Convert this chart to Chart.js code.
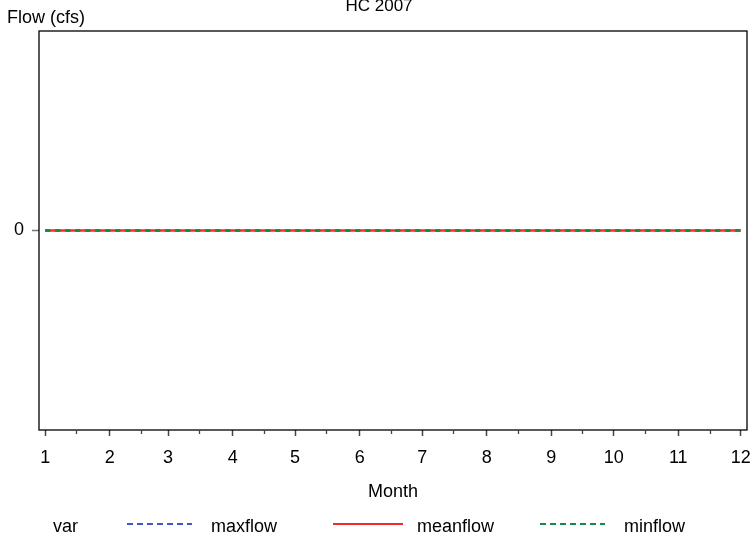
<!DOCTYPE html>
<html>
<head>
<title>HC 2007</title>
<script src="https://cdn.jsdelivr.net/npm/chart.js"></script>
<style>
  body { margin: 0; background: #fff; }
  canvas { display: block; }
</style>
</head>
<body>
<canvas id="chart" width="754" height="545"></canvas>
<script>
// month number and the day of year the month starts on (x is in days)
const months = [1, 2, 3, 4, 5, 6, 7, 8, 9, 10, 11, 12];
const monthStartDay = [1, 32, 60, 91, 121, 152, 182, 213, 244, 274, 305, 335];
const minorTickDay = [16, 47, 75, 106, 136, 167, 197, 228, 259, 289, 320];
const yTicks = [0];

const maxflow  = [0, 0, 0, 0, 0, 0, 0, 0, 0, 0, 0, 0];
const meanflow = [0, 0, 0, 0, 0, 0, 0, 0, 0, 0, 0, 0];
const minflow  = [0, 0, 0, 0, 0, 0, 0, 0, 0, 0, 0, 0];

const FONT = '"Liberation Sans", Arial, sans-serif';
const BLUE = '#4155c4';
const RED = '#f22a2a';
const GREEN = '#138c48';

const toPoints = arr => arr.map((v, i) => ({ x: monthStartDay[i], y: v }));

const series = [
    { label: 'maxflow', data: maxflow, color: BLUE, dash: [5, 5], order: 2 },
    { label: 'meanflow', data: meanflow, color: RED, dash: [], order: 1 },
    { label: 'minflow', data: minflow, color: GREEN, dash: [5, 5], order: 0 }
];

// legend entries: line start/end and text x (layout only)
const legendPos = [
    { x1: 127, x2: 192, tx: 211 },
    { x1: 333, x2: 403, tx: 417 },
    { x1: 540, x2: 605, tx: 624 }
];

const extras = {
    id: 'extras',
    afterDraw(chart) {
        const ctx = chart.ctx;
        const a = chart.chartArea;
        const xs = chart.scales.x;
        ctx.save();

        // frame
        ctx.strokeStyle = '#000';
        ctx.lineWidth = 1.3;
        ctx.strokeRect(a.left, a.top, a.right - a.left, a.bottom - a.top);

        // minor ticks
        ctx.strokeStyle = '#444';
        ctx.lineWidth = 1.3;
        minorTickDay.forEach(d => {
            const px = Math.round(xs.getPixelForValue(d)) + 0.5;
            ctx.beginPath();
            ctx.moveTo(px, a.bottom);
            ctx.lineTo(px, a.bottom + 4);
            ctx.stroke();
        });

        ctx.fillStyle = '#000';
        ctx.textBaseline = 'alphabetic';

        // title
        ctx.font = '17px ' + FONT;
        ctx.textAlign = 'center';
        ctx.fillText('HC 2007', 379, 11);

        // axis titles
        ctx.font = '18px ' + FONT;
        ctx.textAlign = 'left';
        ctx.fillText('Flow (cfs)', 7, 23);
        ctx.textAlign = 'center';
        ctx.fillText('Month', (a.left + a.right) / 2, 497);

        // legend
        ctx.textAlign = 'left';
        ctx.fillText('var', 53, 532);
        series.forEach((s, i) => {
            const p = legendPos[i];
            ctx.strokeStyle = s.color;
            ctx.lineWidth = 2;
            ctx.setLineDash(s.dash.length ? [6, 4] : []);
            ctx.beginPath();
            ctx.moveTo(p.x1, 524);
            ctx.lineTo(p.x2, 524);
            ctx.stroke();
            ctx.setLineDash([]);
            ctx.fillText(s.label, p.tx, 532);
        });

        ctx.restore();
    }
};

new Chart(document.getElementById('chart'), {
    type: 'line',
    data: {
        datasets: series.map(s => ({
            label: s.label,
            data: toPoints(s.data),
            borderColor: s.color,
            borderDash: s.dash,
            borderWidth: 2.5,
            pointRadius: 0,
            fill: false,
            tension: 0,
            order: s.order
        }))
    },
    options: {
        responsive: false,
        animation: false,
        layout: { padding: { top: 31, right: 7, left: 0, bottom: 0 } },
        plugins: {
            legend: { display: false },
            title: { display: false },
            tooltip: { enabled: false }
        },
        scales: {
            x: {
                type: 'linear',
                position: 'bottom',
                min: -2,
                max: 338,
                afterBuildTicks: scale => {
                    scale.ticks = monthStartDay.map(v => ({ value: v }));
                },
                afterFit: scale => {
                    scale.height = 115;
                    scale.paddingLeft = 0;
                    scale.paddingRight = 0;
                },
                ticks: {
                    autoSkip: false,
                    maxRotation: 0,
                    padding: 11,
                    color: '#000',
                    font: { family: FONT, size: 18 },
                    callback: v => months[monthStartDay.indexOf(v)]
                },
                grid: {
                    drawOnChartArea: false,
                    drawTicks: true,
                    tickLength: 6,
                    tickWidth: 1.5,
                    tickColor: '#444'
                },
                border: { display: false }
            },
            y: {
                type: 'linear',
                min: -1,
                max: 1,
                afterBuildTicks: scale => {
                    scale.ticks = yTicks.map(v => ({ value: v }));
                },
                afterFit: scale => {
                    scale.width = 39;
                    scale.paddingTop = 0;
                    scale.paddingBottom = 0;
                },
                ticks: {
                    padding: 8,
                    color: '#000',
                    font: { family: FONT, size: 18 },
                    callback: v => String(v)
                },
                grid: {
                    drawOnChartArea: false,
                    drawTicks: true,
                    tickLength: 7,
                    tickWidth: 1.5,
                    tickColor: '#777'
                },
                border: { display: false }
            }
        }
    },
    plugins: [extras]
});
</script>
</body>
</html>
